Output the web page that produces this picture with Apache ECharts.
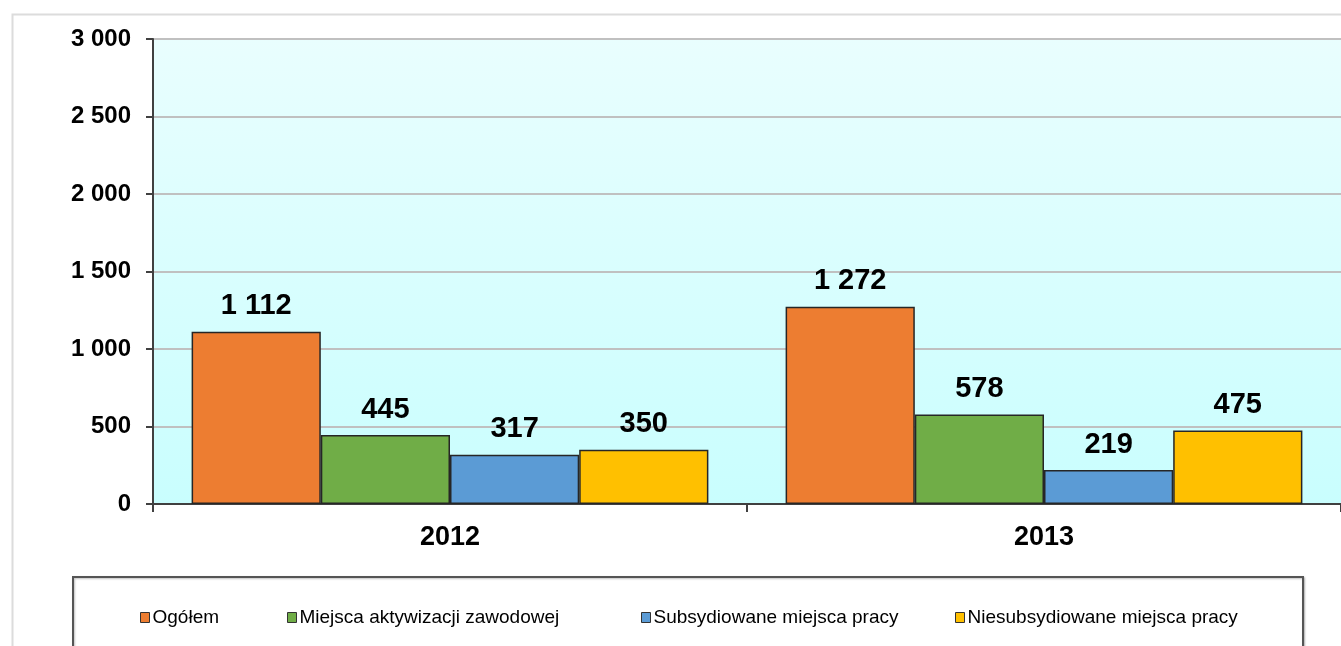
<!DOCTYPE html>
<html lang="pl">

<head>
    <meta charset="UTF-8">
    <title>wykres</title>
    <script src="https://cdn.jsdelivr.net/npm/echarts@6/dist/echarts.min.js"></script>
</head>

<body style="margin:0;background:#fff">
    <div id="chart" style="width: 1341px;height: 646px;"></div>
    <script>
        var years = ['2012', '2013']
        var seriesNames = ['Ogółem', 'Miejsca aktywizacji zawodowej', 'Subsydiowane miejsca pracy', 'Niesubsydiowane miejsca pracy']
        var ogolem = [1112, 1272]
        var aktywizacja = [445, 578]
        var subsydiowane = [317, 219]
        var niesubsydiowane = [350, 475]
        var colors = ['#ED7D31', '#70AD47', '#5B9BD5', '#FFC000']
        var legendLeft = [135, 282, 636, 950]

        // spacja jako separator tysięcy
        function fmt(v) {
            return String(v).replace(/\B(?=(\d{3})+(?!\d))/g, ' ')
        }

        var allData = [ogolem, aktywizacja, subsydiowane, niesubsydiowane]
        var series = allData.map(function (d, i) {
            return {
                name: seriesNames[i],
                type: 'bar',
                data: d,
                barGap: '0%',
                barCategoryGap: '13%',
                itemStyle: { color: colors[i], borderColor: '#262626', borderWidth: 1.5 },
                label: {
                    show: true,
                    position: 'top',
                    distance: 11,
                    fontFamily: 'Arial, "Liberation Sans"',
                    fontWeight: 'bold',
                    fontSize: 29,
                    color: '#000',
                    formatter: function (p) { return fmt(p.value) }
                }
            }
        })

        var legends = seriesNames.map(function (n, i) {
            return {
                data: [n],
                left: legendLeft[i],
                top: 603,
                itemWidth: 9,
                itemHeight: 10,
                itemGap: 6,
                icon: 'rect',
                itemStyle: { borderColor: '#333', borderWidth: 1 },
                textStyle: { fontFamily: 'Arial, "Liberation Sans"', fontSize: 19, color: '#000', padding: [0, 0, 0, -2] }
            }
        })

        var myCharts = echarts.init(document.getElementById('chart'))
        var option = {
            animation: false,
            color: colors,
            graphic: [
                // ramka zewnętrzna
                { type: 'rect', left: 10, top: 12, shape: { width: 1340, height: 650 }, style: { fill: 'none', stroke: '#dcdcdc', lineWidth: 2 }, z: -1 },
                // ramka legendy
                { type: 'rect', left: 72, top: 576, shape: { width: 1230, height: 90 }, style: { fill: '#fff', stroke: '#555', lineWidth: 2, shadowColor: 'rgba(0,0,0,0.25)', shadowOffsetX: 1, shadowOffsetY: 1, shadowBlur: 2 }, z: 0 }
            ],
            legend: legends,
            grid: {
                left: 153,
                top: 39,
                width: 1190,
                height: 465,
                show: true,
                borderWidth: 0,
                backgroundColor: {
                    type: 'linear', x: 0, y: 0, x2: 0, y2: 1,
                    colorStops: [{ offset: 0, color: '#e9fefe' }, { offset: 1, color: '#c9fefe' }]
                }
            },
            xAxis: {
                type: 'category',
                data: years,
                axisLine: { lineStyle: { color: '#404040', width: 2 } },
                axisTick: { show: true, length: 8, lineStyle: { color: '#404040', width: 2 } },
                axisLabel: {
                    margin: 20,
                    fontFamily: 'Arial, "Liberation Sans"',
                    fontWeight: 'bold',
                    fontSize: 27,
                    color: '#000'
                }
            },
            yAxis: {
                type: 'value',
                min: 0,
                max: 3000,
                interval: 500,
                axisLine: { show: true, lineStyle: { color: '#404040', width: 2 } },
                axisTick: { show: true, length: 7, lineStyle: { color: '#404040', width: 2 } },
                splitLine: { lineStyle: { color: '#c0c0c0', width: 2 } },
                axisLabel: {
                    margin: 22,
                    fontFamily: 'Arial, "Liberation Sans"',
                    fontWeight: 'bold',
                    fontSize: 24,
                    color: '#000',
                    formatter: function (v) { return fmt(v) }
                }
            },
            series: series
        }
        myCharts.setOption(option)
    </script>
</body>

</html>
